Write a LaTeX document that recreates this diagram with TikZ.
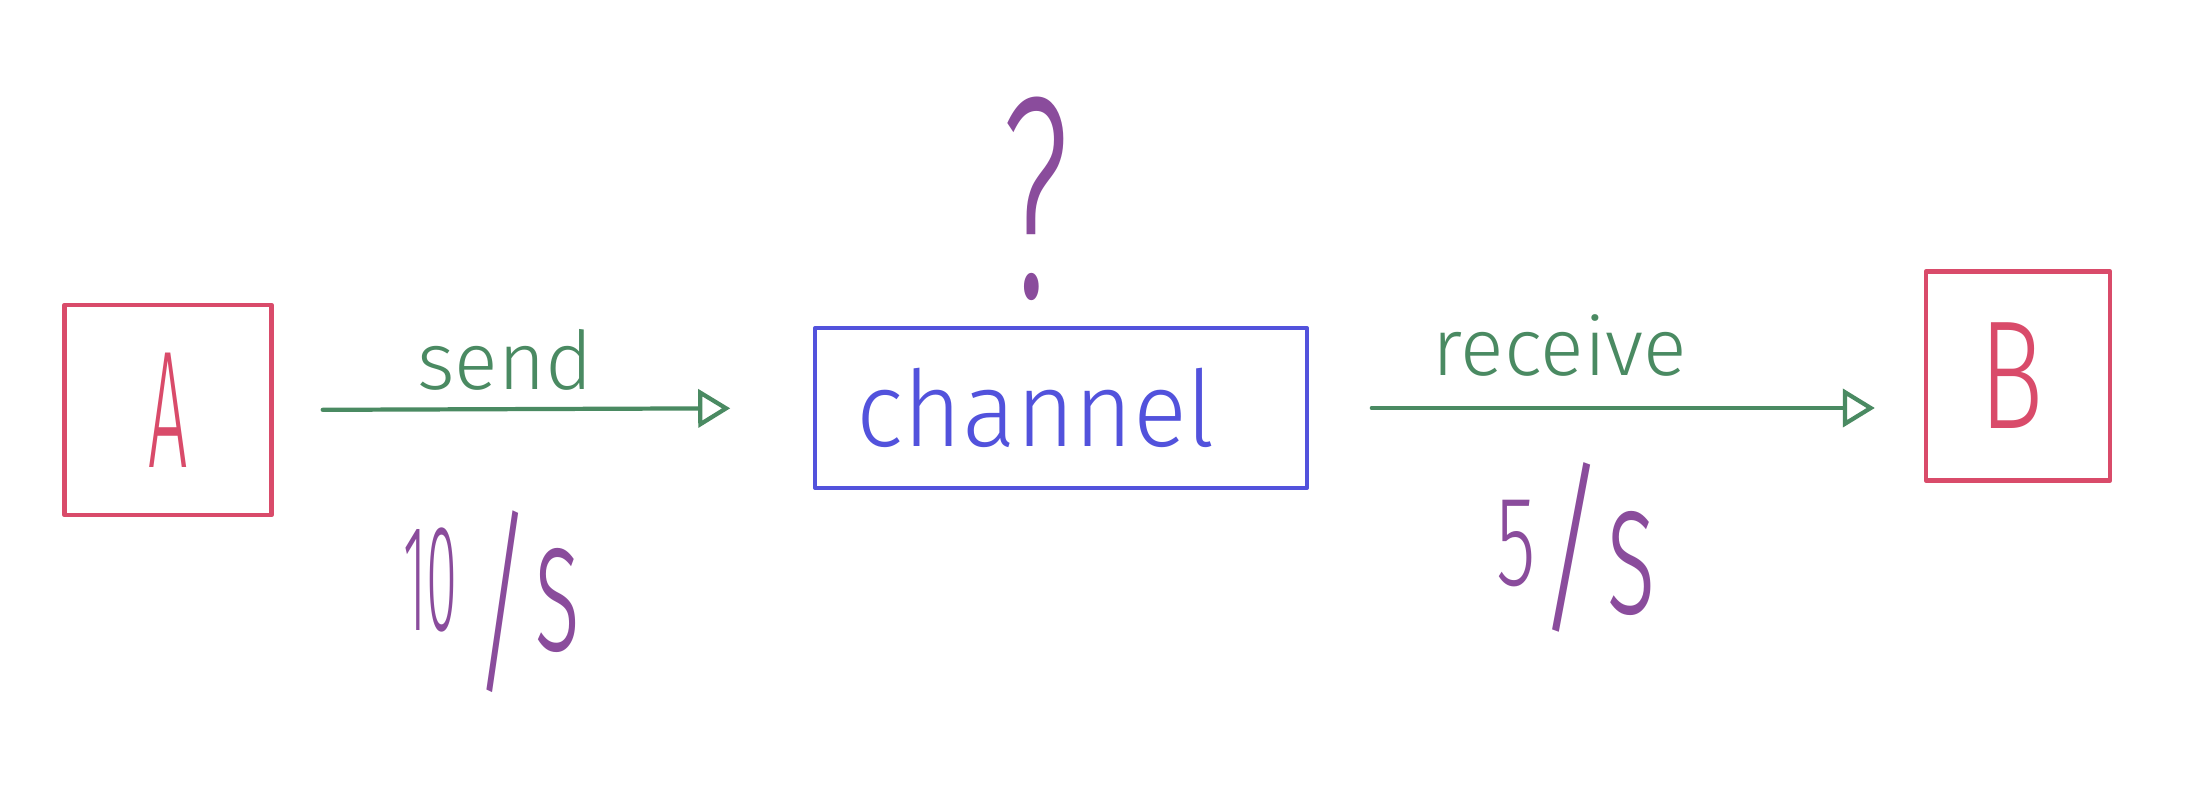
\documentclass[tikz,border=0pt]{standalone}
\usepackage{fontspec}
\setmainfont{Fira Sans}[UprightFont=* Light]
\usetikzlibrary{arrows.meta}
\definecolor{boxred}{HTML}{D94B6A}
\definecolor{chblue}{HTML}{5252DC}
\definecolor{arrgreen}{HTML}{4A8A62}
\definecolor{ratepurple}{HTML}{8A4C9C}
\tikzset{
  hand/.style={line width=1.2pt, line cap=round, line join=round},
  endbox/.style={hand, draw=boxred, text=boxred, rectangle, inner sep=0pt, font=\fontsize{44}{48}\selectfont},
  chanbox/.style={hand, draw=chblue, text=chblue, rectangle, inner sep=0pt, font=\fontsize{30}{34}\selectfont},
  flow/.style={hand, draw=arrgreen, -{Triangle[open, length=0.32cm, width=0.38cm]}},
  flowlabel/.style={text=arrgreen, font=\fontsize{23}{27}\selectfont},
  rate/.style={text=ratepurple, inner sep=0pt, font=\fontsize{32}{36}\selectfont}
}
\begin{document}
\begin{tikzpicture}[x=0.01cm, y=-0.01cm]
\useasboundingbox[fill=white] (0,0) rectangle (2188,800);
\node[endbox, minimum width=2.07cm, minimum height=2.10cm] (A) at (168,410) {\scalebox{0.45}[1.08]{A}};
\node[chanbox, minimum width=4.91cm, minimum height=1.60cm] (C) at (1061,408) {\hspace*{-0.5cm}\raisebox{-0.07cm}{\scalebox{0.95}[1]{channel}}};
\node[endbox, minimum width=1.84cm, minimum height=2.09cm, font=\fontsize{36}{40}\selectfont] (B) at (2018,376) {\hspace*{-0.12cm}\scalebox{0.85}[1.22]{B}};
\node[text=ratepurple, inner sep=0pt, font=\fontsize{64}{70}\selectfont] (q) at (1036,199) {\scalebox{0.68}[1.28]{?}};
\draw[flow, shorten <=0.49cm, shorten >=0.83cm] (A.east) -- (C.west);
\coordinate (bin) at (B.west |- C.east);
\draw[flow, shorten <=0.63cm, shorten >=0.49cm] (C.east) -- (bin);
\node[flowlabel] (send) at (505,360) {send};
\node[flowlabel] (recv) at (1560,345) {receive};
\node[rate, anchor=base west] (r1) at (403,630) {\scalebox{0.5}[1.35]{10}\hspace{0.16cm}\raisebox{-0.42cm}{\scalebox{1.0}[1.79]{/}}\hspace{0.02cm}\raisebox{-0.2cm}{\scalebox{0.88}[1.7]{s}}};
\node[rate, anchor=base west] (r2) at (1496,585) {\scalebox{0.72}[1.14]{5}\raisebox{-0.28cm}{\scalebox{1.2}[1.67]{/}}\raisebox{-0.28cm}{\scalebox{0.95}[1.7]{s}}};
\end{tikzpicture}
\end{document}
